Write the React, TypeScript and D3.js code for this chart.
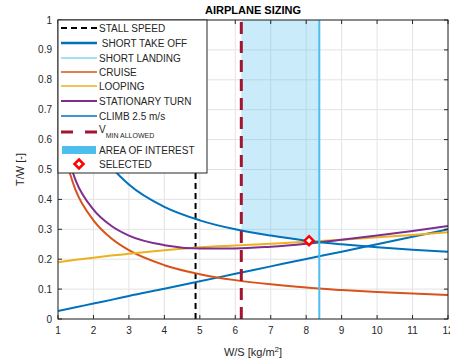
import React from 'react';
import * as d3 from 'd3';

// wing loading grid shared by all constraint curves
const wsGrid = [1, 1.5, 2, 2.5, 3, 4, 5, 6, 7, 8, 9, 10, 11, 12];
const takeOffTW = [0.027, 0.039, 0.052, 0.064, 0.077, 0.101, 0.126, 0.151, 0.176, 0.201, 0.225, 0.25, 0.275, 0.3];
const cruiseTW = [0.63, 0.43, 0.33, 0.27, 0.23, 0.18, 0.15, 0.13, 0.116, 0.105, 0.097, 0.09, 0.085, 0.08];
const loopingTW = [0.19, 0.198, 0.205, 0.212, 0.218, 0.23, 0.24, 0.246, 0.252, 0.258, 0.265, 0.273, 0.281, 0.29];
const turnTW = [0.667, 0.463, 0.366, 0.312, 0.279, 0.247, 0.236, 0.236, 0.242, 0.252, 0.265, 0.279, 0.294, 0.311];
const climbTW = [1.05, 0.75, 0.6, 0.51, 0.45, 0.375, 0.33, 0.3, 0.279, 0.262, 0.25, 0.24, 0.232, 0.225];

const stallWS = 4.88;
const vMinWS = 6.17;
const landingWS = 8.37;
const selected = {ws: 8.08, tw: 0.262};

const xTicks = [1, 2, 3, 4, 5, 6, 7, 8, 9, 10, 11, 12];
const yTicks = [0, 0.1, 0.2, 0.3, 0.4, 0.5, 0.6, 0.7, 0.8, 0.9, 1];

const legendLabels = ['STALL SPEED', ' SHORT TAKE OFF', 'SHORT LANDING', 'CRUISE', 'LOOPING',
  'STATIONARY TURN', 'CLIMB 2.5 m/s', 'V_MIN ALLOWED', 'AREA OF INTEREST', 'SELECTED'];

const W = 450, H = 363;
const m = {left: 58, right: 2, top: 20, bottom: 44};
const axisColor = '#262626';
const font = 'Liberation Sans, Arial, sans-serif';

function interp(xs: number[], ys: number[], x: number) {
  const i = Math.max(1, Math.min(xs.length - 1, d3.bisectLeft(xs, x)));
  const t = (x - xs[i - 1]) / (xs[i] - xs[i - 1]);
  return ys[i - 1] + t * (ys[i] - ys[i - 1]);
}

const App: React.FC = () => {
  const x = d3.scaleLinear().domain([1, 12]).range([m.left, W - m.right]);
  const y = d3.scaleLinear().domain([0, 1]).range([H - m.bottom, m.top]);
  const line = d3.line<[number, number]>().x(d => x(d[0])).y(d => y(d[1])).curve(d3.curveMonotoneX);
  const pts = (ys: number[]) => wsGrid.map((w, i) => [w, ys[i]] as [number, number]);

  const series = [
    {ys: takeOffTW, color: '#0072BD', w: 2},
    {ys: cruiseTW, color: '#D95319', w: 2},
    {ys: loopingTW, color: '#EDB120', w: 2},
    {ys: turnTW, color: '#7E2F8E', w: 2},
    {ys: climbTW, color: '#0072BD', w: 2},
  ];

  // area of interest: above every constraint between V_min and landing limit
  const areaXs = d3.range(0, 41).map(i => vMinWS + (landingWS - vMinWS) * i / 40);
  const area = d3.area<number>()
    .x(d => x(d))
    .y0(d => y(d3.max(series, s => interp(wsGrid, s.ys, d))!))
    .y1(y(1));

  const x0 = m.left, x1 = W - m.right, y0 = H - m.bottom, y1 = m.top;

  const lx = 61, lw = 36, ltx = 99;
  const ly = [28, 43, 58, 72, 86, 101, 116, 132, 150, 164];
  const diamond = (cx: number, cy: number, r: number) => `M${cx},${cy - r}L${cx + r},${cy}L${cx},${cy + r}L${cx - r},${cy}Z`;

  return (
    <svg width={W} height={H} style={{position: 'absolute', left: 0, top: 0, background: '#fff'}} fontFamily={font}>
      <defs>
        <clipPath id="plot"><rect x={x0} y={y1} width={x1 - x0} height={y0 - y1}/></clipPath>
      </defs>
      {/* grid */}
      {xTicks.map(t => <line key={'gx' + t} x1={x(t)} x2={x(t)} y1={y0} y2={y1} stroke="#e3e3e3" strokeWidth={1}/>)}
      {yTicks.map(t => <line key={'gy' + t} x1={x0} x2={x1} y1={y(t)} y2={y(t)} stroke="#e3e3e3" strokeWidth={1}/>)}

      <g clipPath="url(#plot)">
        <path d={area(areaXs)!} fill="#4DBEEE" fillOpacity={0.3}/>
        <line x1={x(stallWS)} x2={x(stallWS)} y1={y0} y2={y1} stroke="#000" strokeWidth={2} strokeDasharray="6,4"/>
        {series.map((s, i) => <path key={i} d={line(pts(s.ys))!} fill="none" stroke={s.color} strokeWidth={s.w}/>)}
        <line x1={x(vMinWS)} x2={x(vMinWS)} y1={y0} y2={y1} stroke="#A2142F" strokeWidth={3} strokeDasharray="12,7"/>
        <line x1={x(landingWS)} x2={x(landingWS)} y1={y0} y2={y1} stroke="#4DBEEE" strokeWidth={2}/>
        <path d={diamond(x(selected.ws), y(selected.tw), 4.5)} fill="#fff" stroke="#ff0000" strokeWidth={2.5}/>
      </g>

      {/* axes box and ticks */}
      <rect x={x0} y={y1} width={x1 - x0} height={y0 - y1} fill="none" stroke={axisColor} strokeWidth={1}/>
      {xTicks.map(t => (
        <g key={'tx' + t}>
          <line x1={x(t)} x2={x(t)} y1={y0} y2={y0 - 4} stroke={axisColor}/>
          <line x1={x(t)} x2={x(t)} y1={y1} y2={y1 + 4} stroke={axisColor}/>
          <text x={x(t)} y={y0 + 15} fontSize={10} textAnchor="middle" fill={axisColor}>{t}</text>
        </g>
      ))}
      {yTicks.map(t => (
        <g key={'ty' + t}>
          <line x1={x0} x2={x0 + 4} y1={y(t)} y2={y(t)} stroke={axisColor}/>
          <line x1={x1} x2={x1 - 4} y1={y(t)} y2={y(t)} stroke={axisColor}/>
          <text x={x0 - 6} y={y(t) + 3.5} fontSize={10} textAnchor="end" fill={axisColor}>{+t.toFixed(1)}</text>
        </g>
      ))}

      <text x={(x0 + x1) / 2} y={14} fontSize={11} fontWeight="bold" textAnchor="middle" fill="#000">AIRPLANE SIZING</text>
      <text x={(x0 + x1) / 2} y={356} fontSize={11} textAnchor="middle" fill={axisColor}>
        W/S [kg/m<tspan dy={-4} fontSize={8}>2</tspan><tspan dy={4}>]</tspan>
      </text>
      <text transform={`translate(24,${(y0 + y1) / 2}) rotate(-90)`} fontSize={11} textAnchor="middle" fill={axisColor}>T/W [-]</text>

      {/* legend */}
      <rect x={x0} y={y1} width={149} height={153} fill="#fff" stroke={axisColor} strokeWidth={1}/>
      <line x1={lx} x2={lx + lw} y1={ly[0]} y2={ly[0]} stroke="#000" strokeWidth={2} strokeDasharray="6,4"/>
      <line x1={lx} x2={lx + lw} y1={ly[1]} y2={ly[1]} stroke="#0072BD" strokeWidth={2.5}/>
      <line x1={lx} x2={lx + lw} y1={ly[2]} y2={ly[2]} stroke="#4DBEEE" strokeWidth={1}/>
      <line x1={lx} x2={lx + lw} y1={ly[3]} y2={ly[3]} stroke="#D95319" strokeWidth={1.5}/>
      <line x1={lx} x2={lx + lw} y1={ly[4]} y2={ly[4]} stroke="#EDB120" strokeWidth={1.5}/>
      <line x1={lx} x2={lx + lw} y1={ly[5]} y2={ly[5]} stroke="#7E2F8E" strokeWidth={2}/>
      <line x1={lx} x2={lx + lw} y1={ly[6]} y2={ly[6]} stroke="#0072BD" strokeWidth={1.5}/>
      <line x1={lx} x2={lx + lw} y1={ly[7]} y2={ly[7]} stroke="#A2142F" strokeWidth={3} strokeDasharray="12,12"/>
      <rect x={lx + 1} y={ly[8] - 4} width={lw - 2} height={8} fill="#4DBEEE"/>
      <path d={diamond(lx + lw / 2, ly[9], 4.5)} fill="#fff" stroke="#ff0000" strokeWidth={2.5}/>
      {legendLabels.map((l, i) => i === 7 ? (
        <text key={l} x={ltx} y={ly[i] + 1} fontSize={10} fill={axisColor}>V<tspan dy={5} fontSize={7}>MIN ALLOWED</tspan></text>
      ) : (
        <text key={l} x={ltx} y={ly[i] + 3.5} fontSize={10} fill={axisColor} style={{whiteSpace: 'pre'}}>{l}</text>
      ))}
    </svg>
  );
};

export default App;
